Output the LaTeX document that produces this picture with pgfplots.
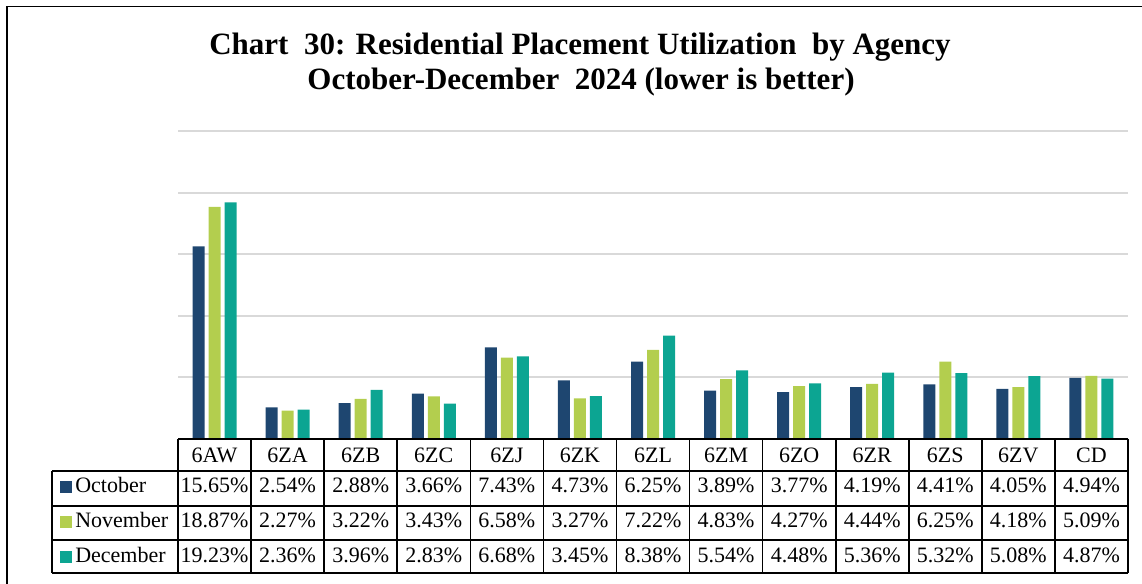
\documentclass[border=0pt]{standalone}
\usepackage{pgfplots}
\usepackage{pgfplotstable}
\pgfplotsset{compat=1.18}
\usepackage{fontspec}
\setmainfont{Liberation Serif}
\definecolor{oct}{RGB}{30,70,112}
\definecolor{nov}{RGB}{179,206,78}
\definecolor{dec}{RGB}{12,165,146}
\pgfplotstableread{
idx oct nov dec
0 15.65 18.87 19.23
1 2.54 2.27 2.36
2 2.88 3.22 3.96
3 3.66 3.43 2.83
4 7.43 6.58 6.68
5 4.73 3.27 3.45
6 6.25 7.22 8.38
7 3.89 4.83 5.54
8 3.77 4.27 4.48
9 4.19 4.44 5.36
10 4.41 6.25 5.32
11 4.05 4.18 5.08
12 4.94 5.09 4.87
}\data
\begin{document}
\begin{tikzpicture}[x=0.75pt,y=0.75pt]
\useasboundingbox (0,0) rectangle (1142,584);
\begin{axis}[at={(133.5pt,109.125pt)}, anchor=south west,
  width=712.5pt, height=230.25pt, scale only axis,
  xmin=-0.5, xmax=12.5, ymin=0, ymax=25,
  ytick={5,10,15,20,25}, yticklabels={}, xtick=\empty,
  ymajorgrids, grid style={draw=black!15, line width=1.5pt},
  axis line style={draw=none}, major tick length=0pt,
  ybar=3pt, bar width=9pt, clip=false]
\addplot[fill=oct,draw=none] table[x=idx,y=oct]{\data};
\addplot[fill=nov,draw=none] table[x=idx,y=nov]{\data};
\addplot[fill=dec,draw=none] table[x=idx,y=dec]{\data};
\end{axis}
\begin{scope}[shift={(0,584)}, y=-0.75pt]
% frame
\draw[line width=1.1pt] (7,590) -- (7,6.5) -- (1145,6.5);
% title
\node[anchor=base,inner sep=0pt,font=\fontsize{23.25}{26}\selectfont\bfseries] at (580,55) {Chart\ \ 30: Residential Placement Utilization\ \ by Agency};
\node[anchor=base,inner sep=0pt,font=\fontsize{23.25}{26}\selectfont\bfseries] at (581,90) {October-December\ \ 2024 (lower is better)};
% table
\begin{scope}[line width=1.2pt]
\draw (178,439) -- (1128,439);
\foreach \yy in {471,506,540,573} \draw (52,\yy) -- (1128,\yy);
\draw (52,471) -- (52,573);
\foreach \i in {0,...,13} \draw ({178+73.077*\i},439) -- ({178+73.077*\i},573);
\end{scope}
\begin{scope}[every node/.style={inner sep=0pt,font=\fontsize{16.5}{18}\selectfont}]
\foreach \lab [count=\i from 0] in {6AW,6ZA,6ZB,6ZC,6ZJ,6ZK,6ZL,6ZM,6ZO,6ZR,6ZS,6ZV,CD}
  \node[anchor=base] at ({178+73.077*(\i+0.5)},463) {\lab};
\foreach \col/\yb in {oct/493,nov/528,dec/563} {
  \foreach \r in {0,...,12} {
    \pgfplotstablegetelem{\r}{\col}\of\data
    \node[anchor=base] at ({178+73.077*(\r+0.5)},\yb) {\pgfplotsretval\%};
  }
}
\fill[oct] (60,481) rectangle (72,493);
\node[anchor=base west] at (75,493) {October};
\fill[nov] (60,516) rectangle (72,528);
\node[anchor=base west] at (75,528) {November};
\fill[dec] (60,551) rectangle (72,563);
\node[anchor=base west] at (75,563) {December};
\end{scope}
\end{scope}
\end{tikzpicture}
\end{document}
